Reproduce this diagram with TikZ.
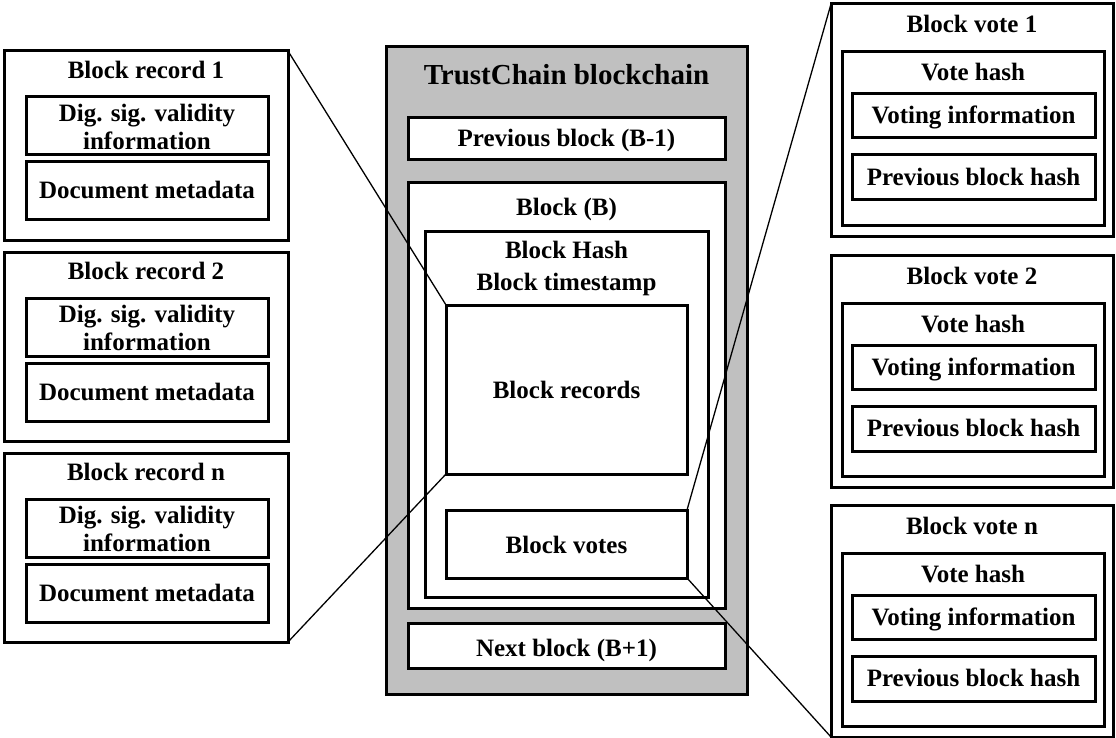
\documentclass[tikz,border=0pt]{standalone}
\usepackage{fontspec}
\setmainfont{Liberation Serif}
\usetikzlibrary{fit}
\definecolor{chaingray}{RGB}{192,192,192}
\tikzset{
  boxframe/.style={draw, line width=3pt, fill=white, inner sep=0pt, outer sep=0pt},
  txt/.style={font=\bfseries\fontsize{25}{28}\selectfont, inner sep=0pt, anchor=base, align=center},
  link/.style={line width=1.3pt},
}
\begin{document}
\begin{tikzpicture}[x=1pt,y=-1pt]
\useasboundingbox (0,0) rectangle (1116,738);

% ---- central chain ----
\node[boxframe, fill=chaingray, fit={(386,47) (747,694)}] (chain) {};
\node[txt, font=\bfseries\fontsize{29}{33}\selectfont] (chaintitle) at (566.5,85) {TrustChain blockchain};
\node[boxframe, fit={(408,118) (725,160)}] (prev) {};
\node[txt] (prevtxt) at (566.5,147) {Previous block (B-1)};
\node[boxframe, fit={(408,183) (725,608)}] (blk) {};
\node[txt] (blktxt) at (566.5,215) {Block (B)};
\node[boxframe, fit={(425,231) (708,597)}] (hdr) {};
\node[txt, anchor=center, font=\bfseries\fontsize{25}{32}\selectfont] (hdrtxt) at (566.5,268) {Block Hash\\Block timestamp};
\node[boxframe, fit={(446,305) (687,474)}] (recs) {};
\node[txt] (recstxt) at (566.5,398) {Block records};
\node[boxframe, fit={(446,510) (687,578)}] (votes) {};
\node[txt] (votestxt) at (566.5,553) {Block votes};
\node[boxframe, fit={(408,623) (725,668)}] (next) {};
\node[txt] (nexttxt) at (566.5,656) {Next block (B+1)};

% ---- block records ----
\foreach \i/\t/\o in {1/1/0, 2/2/201, 3/n/402}{
  \node[boxframe, fit={(4,{51+\o}) (288,{240+\o})}] (rec\i) {};
  \node[txt] (rec\i title) at (146,{78.5+\o}) {Block record \t};
  \node[boxframe, fit={(26,{97+\o}) (268,{155+\o})}] (sig\i) {};
  \node[txt, anchor=center] (sig\i txt) at (147,{126.5+\o}) {Dig. sig. validity\\information};
  \node[boxframe, fit={(26,{162+\o}) (268,{220+\o})}] (meta\i) {};
  \node[txt] (meta\i txt) at (147,{199+\o}) {Document metadata};
}

% ---- block votes ----
\foreach \i/\t/\o in {1/1/0, 2/2/251, 3/n/501}{
  \node[boxframe, fit={(831,{4+\o}) (1113,{236+\o})}] (vote\i) {};
  \node[txt] (vote\i title) at (972,{33+\o}) {Block vote \t};
  \node[boxframe, fit={(842,{52+\o}) (1104,{225+\o})}] (vh\i) {};
  \node[txt] (vh\i txt) at (973,{81+\o}) {Vote hash};
  \node[boxframe, fit={(852,{94+\o}) (1095,{138+\o})}] (vi\i) {};
  \node[txt] (vi\i txt) at (973.5,{124+\o}) {Voting information};
  \node[boxframe, fit={(852,{155+\o}) (1095,{200+\o})}] (pb\i) {};
  \node[txt] (pb\i txt) at (973.5,{185.5+\o}) {Previous block hash};
}

% ---- zoom connectors ----
\draw[link] (rec1.north east) -- (recs.north west);
\draw[link] (rec3.south east) -- (recs.south west);
\draw[link] (votes.north east) -- (vote1.north west);
\draw[link] (votes.south east) -- (vote3.south west);
\end{tikzpicture}
\end{document}
